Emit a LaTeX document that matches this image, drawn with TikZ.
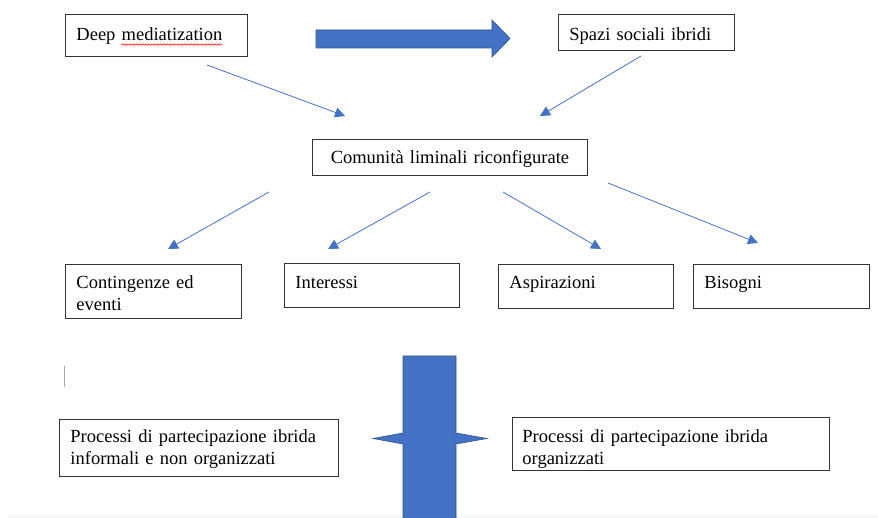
\documentclass[tikz,border=0pt]{standalone}
\usepackage{fontspec}
\setmainfont{Liberation Serif}
\usepackage{tikz}
\usetikzlibrary{decorations.pathmorphing}
\usetikzlibrary{arrows.meta,positioning}
\definecolor{officeblue}{HTML}{4472C4}
\definecolor{officeline}{HTML}{2F528F}

\begin{document}
\begin{tikzpicture}[x=1pt,y=-1pt]
\tikzstyle{box}=[draw=black!80,line width=0.9pt,anchor=north west,inner xsep=11pt,inner ysep=0pt,align=left,font=\fontsize{18.5}{22}\selectfont]
\tikzstyle{link}=[draw=officeblue,line width=0.8pt,-{Triangle[length=10pt,width=10pt]}]
\tikzstyle{block}=[fill=officeblue,draw=officeline,line width=0.6pt]

\useasboundingbox (0,0) rectangle (878,518);
\fill[gray!6] (8,515) rectangle (878,518);

\node [box] (deep) at(65,14)[text width=160pt,text height=26pt,text depth=16pt] {Deep mediatization};
\node [box] (spazi) at(558,14)[text width=154pt,text height=26pt,text depth=10pt] {Spazi sociali ibridi};
\node [box] (comunita) at(312,139)[text width=253pt,text height=24pt,text depth=12pt,align=center,inner xsep=11pt] {Comunità liminali riconfigurate};
\node [box] (conting) at(65,264)[text width=154pt,text height=24pt,text depth=30pt] {Contingenze ed\\eventi};
\node [box] (interessi) at(284,263)[text width=153pt,text height=25pt,text depth=19pt] {Interessi};
\node [box] (aspir) at(498,264)[text width=153pt,text height=24pt,text depth=20pt] {Aspirazioni};
\node [box] (bisogni) at(693,264)[text width=154pt,text height=24pt,text depth=20pt] {Bisogni};
\node [box] (informali) at(59,419)[text width=257pt,text height=23pt,text depth=34pt] {Processi di partecipazione ibrida\\informali e non organizzati};
\node [box] (organizzati) at(512,417)[text width=297pt,text height=25pt,text depth=28pt,inner xsep=10pt] {Processi di partecipazione ibrida\\organizzati};

% spell-check mark and cursor
\draw[red,line width=0.5pt,decorate,decoration={snake,amplitude=0.8pt,segment length=3pt}] (121,44.5) -- (222,44.5);
\draw[gray!70,line width=1pt] (64,366) -- (64,387);

% block arrows
\path[block] (316,30) -- (492,30) -- (492,20) -- (510,38.5) -- (492,57) -- (492,48) -- (316,48) -- cycle;
\path[block] (403,356) -- (456,356) -- (456,433) -- (487,438.5) -- (456,444) -- (456,522) -- (403,522) -- (403,444) -- (373,438.5) -- (403,433) -- cycle;

\coordinate (s1) at(207,65);
\coordinate (e1) at(345,116);
\coordinate (s2) at(641,56);
\coordinate (e2) at(540,116);
\coordinate (s3) at(269,192);
\coordinate (e3) at(168,249);
\coordinate (s4) at(430,192);
\coordinate (e4) at(328,249);
\coordinate (s5) at(503,192);
\coordinate (e5) at(601,249);
\coordinate (s6) at(608,183);
\coordinate (e6) at(758,243);

\path (s1) edge[link] (e1);
\path (s2) edge[link] (e2);
\path (s3) edge[link] (e3);
\path (s4) edge[link] (e4);
\path (s5) edge[link] (e5);
\path (s6) edge[link] (e6);
\end{tikzpicture}
\end{document}
